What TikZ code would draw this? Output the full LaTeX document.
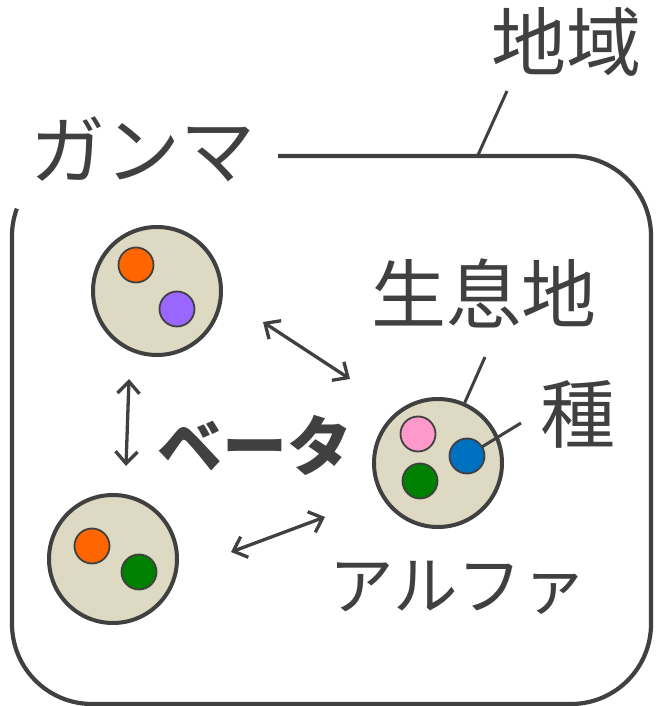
\documentclass[tikz,border=0pt]{standalone}
\usepackage{fontspec}
\setmainfont{Noto Sans CJK JP}
\usetikzlibrary{arrows.meta}
\definecolor{ink}{HTML}{404040}
\definecolor{beige}{HTML}{DDD9C3}
\definecolor{sporange}{HTML}{FF6600}
\definecolor{sppurple}{HTML}{9966FF}
\definecolor{spgreen}{HTML}{008000}
\definecolor{sppink}{HTML}{FF99CC}
\definecolor{spblue}{HTML}{0070C0}
\begin{document}
\begin{tikzpicture}[x=1pt,y=1pt,
  habitat/.style={circle,draw=ink,fill=beige,line width=4pt,minimum size=128pt,inner sep=0pt},
  species/.style={circle,draw=ink,line width=1.8pt,minimum size=35pt,inner sep=0pt},
  lbl/.style={text=ink,inner sep=0pt,font=\fontsize{75}{82}\selectfont},
  arr/.style={draw=ink,line width=3.3pt,{Straight Barb[length=12pt,width=22pt]}-{Straight Barb[length=12pt,width=22pt]}},
  leader/.style={draw=ink,line width=3pt}]
\useasboundingbox (0,0) rectangle (656,706);
% region outline
\draw[ink,line width=4.2pt] (278,550) -- (571,550) arc[start angle=90,end angle=0,radius=80]
  -- (651,82) arc[start angle=0,end angle=-90,radius=80]
  -- (92,2) arc[start angle=270,end angle=180,radius=80]
  -- (12,470) arc[start angle=180,end angle=160,radius=80];
% habitats
\node[habitat] (h1) at (157,415) {};
\node[habitat] (h2) at (113,147) {};
\node[habitat] (h3) at (438,243) {};
% species
\node[species,fill=sporange] (s1) at (136,441) {};
\node[species,fill=sppurple] (s2) at (177,397) {};
\node[species,fill=sporange] (s3) at (92,160) {};
\node[species,fill=spgreen] (s4) at (139,134) {};
\node[species,fill=sppink] (s5) at (418,272) {};
\node[species,fill=spgreen] (s7) at (420,225) {};
% labels
\node[lbl] (gamma) at (143,557) {ガンマ};
\node[lbl] (chiiki) at (566,664) {地域};
\node[lbl] (seisoku) at (484,413) {生息地};
\node[lbl] (shu) at (578,292) {種};
\node[lbl,font=\fontsize{65}{72}\selectfont\bfseries] (beta) at (255,261) {ベータ};
\node[lbl,font=\fontsize{64.5}{72}\selectfont] (alpha) at (458,118) {アルファ};
% leaders
\coordinate (c1) at (507,615);
\coordinate (c1e) at (478,551);
\draw[leader] (c1) -- (c1e);
\coordinate (c2) at (485,349);
\draw[leader] (c2) -- (h3);
\coordinate (c3) at (521,283);
\draw[leader] (c3) -- (467,250);
\node[species,fill=spblue] (s6) at (467,250) {};
% arrows
\coordinate (a1s) at (263,384);
\coordinate (a1e) at (350,327);
\coordinate (a2s) at (129,327);
\coordinate (a2e) at (126,240);
\coordinate (a3s) at (231,154);
\coordinate (a3e) at (325,189);
\draw[arr] (a1s) -- (a1e);
\draw[arr] (a2s) -- (a2e);
\draw[arr] (a3s) -- (a3e);
\end{tikzpicture}
\end{document}
